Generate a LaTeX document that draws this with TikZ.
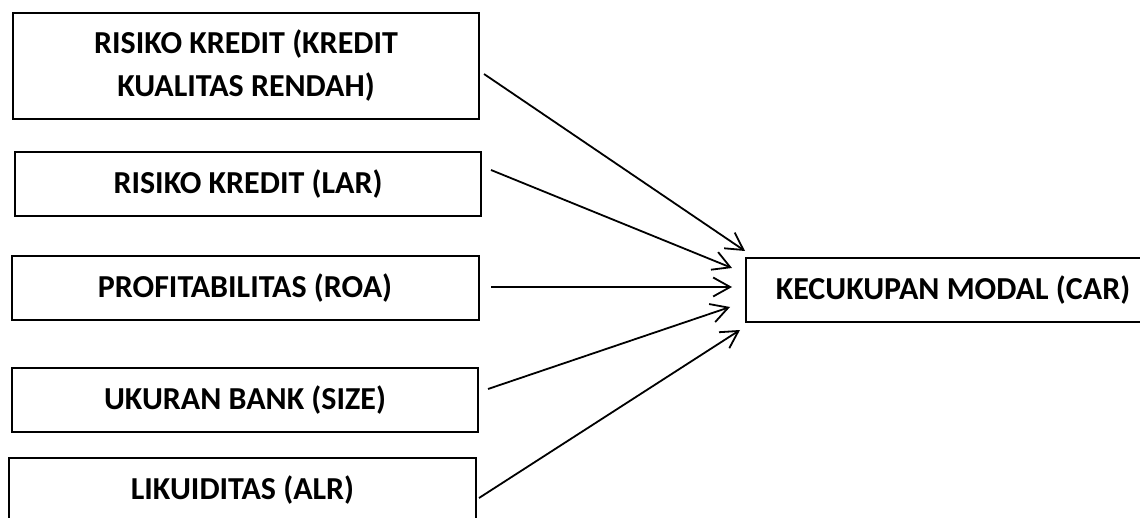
\documentclass[tikz,border=0pt]{standalone}
\usepackage{fontspec}
\setmainfont{Carlito}
\usetikzlibrary{arrows.meta}
\begin{document}
\begin{tikzpicture}[x=1pt,y=-1pt,
  box/.style={draw,line width=2pt,minimum height=64pt,inner sep=0pt,align=center,font=\fontsize{32}{43}\selectfont\bfseries},
  conn/.style={line width=1.8pt,-{Straight Barb[length=17pt,width=19pt]}}]
\useasboundingbox (0,0) rectangle (1140,518);
\node[box,minimum width=466pt,minimum height=106pt] (b1) at (246,66) {RISIKO KREDIT (KREDIT\\KUALITAS RENDAH)};
\node[box,minimum width=466pt] (b2) at (248,184) {RISIKO KREDIT (LAR)};
\node[box,minimum width=467pt] (b3) at (245,288) {PROFITABILITAS (ROA)};
\node[box,minimum width=466pt] (b4) at (245,400) {UKURAN BANK (SIZE)};
\node[box,minimum width=467pt] (b5) at (242.5,490) {LIKUIDITAS (ALR)};
\node[box,minimum width=414pt] (car) at (953,290) {KECUKUPAN MODAL (CAR)};
\coordinate (s1) at (484,74);  \coordinate (e1) at (745,251);
\coordinate (s2) at (491,170); \coordinate (e2) at (732,268);
\coordinate (s3) at (491,287); \coordinate (e3) at (732,287);
\coordinate (s4) at (488,389); \coordinate (e4) at (730,307);
\coordinate (s5) at (479,498); \coordinate (e5) at (740,330);
\draw[conn] (s1) -- (e1);
\draw[conn] (s2) -- (e2);
\draw[conn] (s3) -- (e3);
\draw[conn] (s4) -- (e4);
\draw[conn] (s5) -- (e5);
\end{tikzpicture}
\end{document}
